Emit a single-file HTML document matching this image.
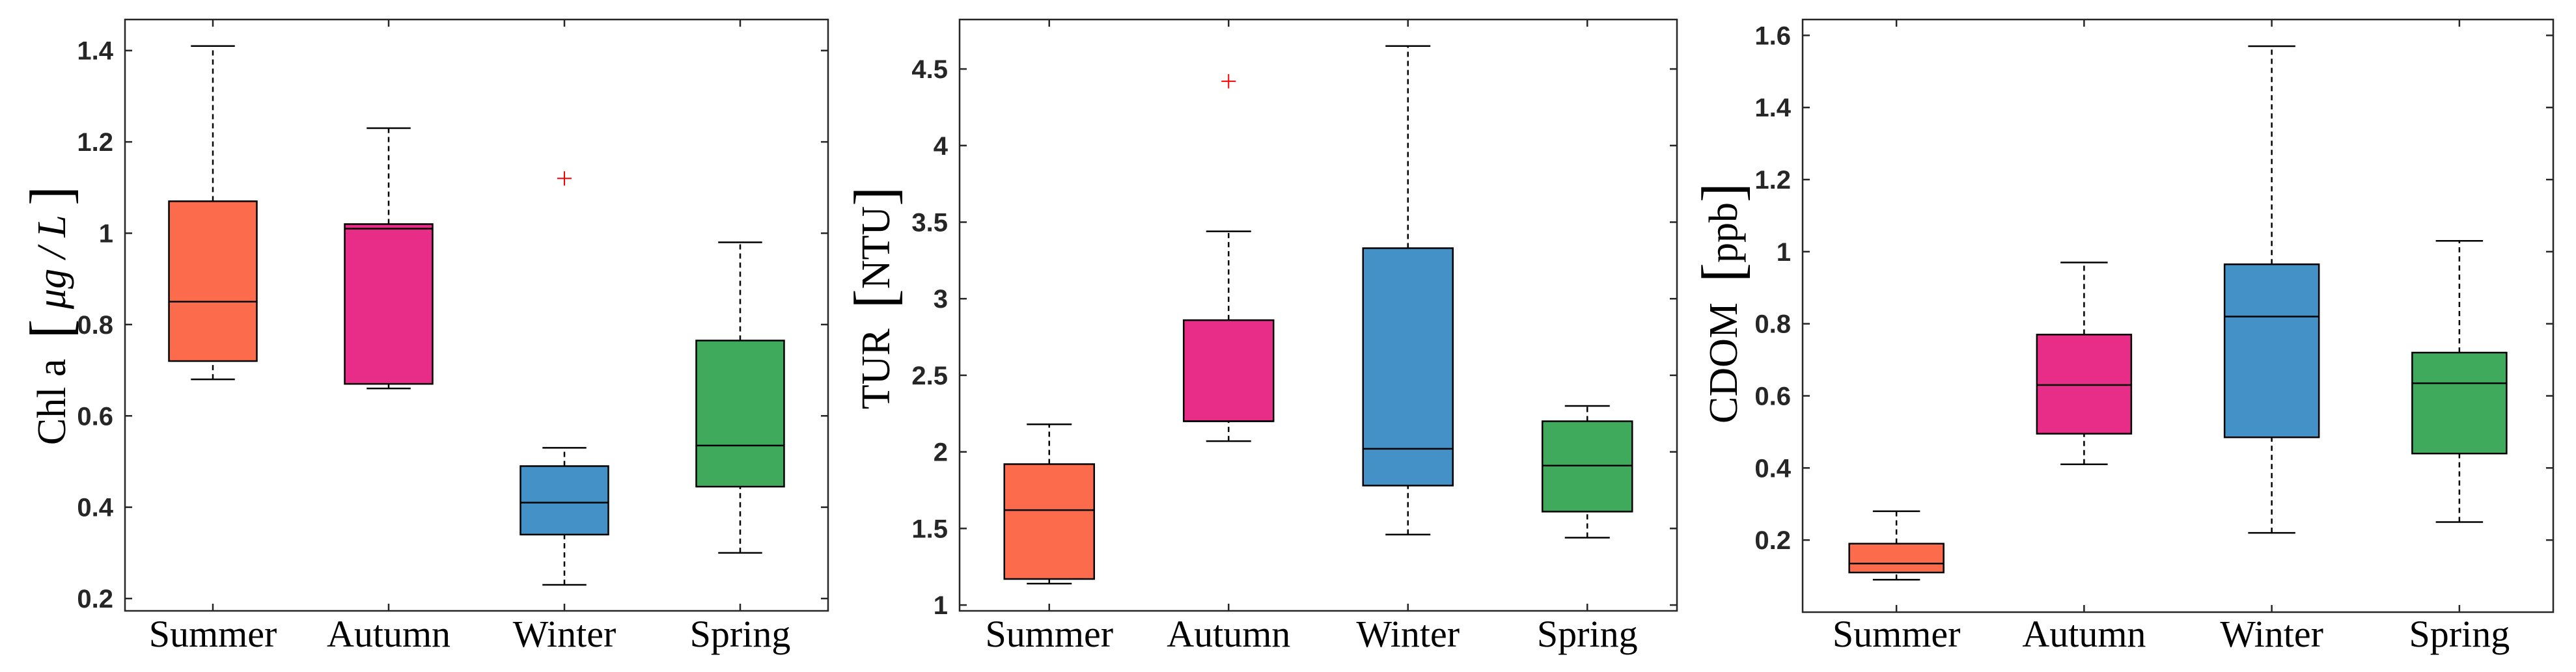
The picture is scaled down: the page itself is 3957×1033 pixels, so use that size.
<!DOCTYPE html>
<html><head><meta charset="utf-8"><style>
html,body{margin:0;padding:0;background:#fff;}
svg{display:block;}
.tick{font-family:"Liberation Sans",sans-serif;font-weight:bold;font-size:40px;fill:#262626;}
.cat{font-family:"Liberation Serif",serif;font-size:58px;fill:#000;}
.ylab{font-family:"Liberation Serif",serif;font-size:62px;fill:#000;}
</style></head><body>
<svg id="chart" width="3957" height="1033" viewBox="0 0 3957 1033" xmlns="http://www.w3.org/2000/svg"></svg>
<script>
const categories = ["Summer","Autumn","Winter","Spring"];
const colors = ["#FC6B4C","#E72D88","#4391C6","#3FAA5B"];
// per panel: [whiskerLow, q1, median, q3, whiskerHigh]
const chlStats = [[0.68,0.72,0.85,1.07,1.41],[0.66,0.67,1.01,1.02,1.23],[0.23,0.34,0.41,0.49,0.53],[0.30,0.445,0.535,0.765,0.98]];
const chlOutliers = [[],[],[1.12],[]];
const chlTicks = [0.2,0.4,0.6,0.8,1,1.2,1.4];
const turStats = [[1.14,1.17,1.62,1.92,2.18],[2.07,2.2,2.2,2.86,3.44],[1.46,1.78,2.02,3.33,4.65],[1.44,1.61,1.91,2.2,2.3]];
const turOutliers = [[],[4.42],[],[]];
const turTicks = [1,1.5,2,2.5,3,3.5,4,4.5];
const cdomStats = [[0.09,0.11,0.135,0.19,0.28],[0.41,0.495,0.63,0.77,0.97],[0.22,0.485,0.82,0.965,1.57],[0.25,0.44,0.635,0.72,1.03]];
const cdomOutliers = [[],[],[],[]];
const cdomTicks = [0.2,0.4,0.6,0.8,1,1.2,1.4,1.6];

const NS="http://www.w3.org/2000/svg";
const svg=document.getElementById('chart');
function mk(tag,attrs,parent){const e=document.createElementNS(NS,tag);for(const k in attrs)e.setAttribute(k,attrs[k]);(parent||svg).appendChild(e);return e;}

const panels=[
 {name:'chl-a',left:192,right:1272,top:30,bottom:939,ymin:0.173,ymax:1.468,stats:chlStats,out:chlOutliers,ticks:chlTicks,fmt:v=>String(v),bw:135,ylx:80,yly:485,lab:'chl'},
 {name:'tur',left:1474,right:2576,top:30,bottom:939,ymin:0.962,ymax:4.823,stats:turStats,out:turOutliers,ticks:turTicks,fmt:v=>String(v),bw:138,ylx:1346,yly:458,lab:'tur'},
 {name:'cdom',left:2769,right:3922,top:30,bottom:941,ymin:0.0,ymax:1.644,stats:cdomStats,out:cdomOutliers,ticks:cdomTicks,fmt:v=>String(v),bw:145,ylx:2648,yly:466,lab:'cdom'}
];

panels.forEach(p=>{
  const g=mk('g',{});
  
  
  const y=v=>p.bottom-(v-p.ymin)/(p.ymax-p.ymin)*(p.bottom-p.top);
  const step=(p.right-p.left)/4;
  const x=i=>p.left+step*(i+0.5);
  p.stats.forEach((s,i)=>{
    const cx=x(i),hw=p.bw/2,cw=hw/2;
    const bg=mk('g',{},g);
    
    
    mk('line',{x1:cx,x2:cx,y1:y(s[0]),y2:y(s[1]),stroke:'#000','stroke-width':2.5,'stroke-dasharray':'8 6'},bg);
    mk('line',{x1:cx,x2:cx,y1:y(s[3]),y2:y(s[4]),stroke:'#000','stroke-width':2.5,'stroke-dasharray':'8 6'},bg);
    mk('line',{x1:cx-cw,x2:cx+cw,y1:y(s[0]),y2:y(s[0]),stroke:'#000','stroke-width':2.5},bg);
    mk('line',{x1:cx-cw,x2:cx+cw,y1:y(s[4]),y2:y(s[4]),stroke:'#000','stroke-width':2.5},bg);
    mk('rect',{x:cx-hw,y:y(s[3]),width:p.bw,height:y(s[1])-y(s[3]),fill:colors[i],stroke:'#000','stroke-width':2.5},bg);
    mk('line',{x1:cx-hw,x2:cx+hw,y1:y(s[2]),y2:y(s[2]),stroke:'#000','stroke-width':2.5},bg);
    p.out[i].forEach(o=>{
      const oy=y(o);
      const og=mk('g',{},bg);
      
      
      mk('line',{x1:cx-11,x2:cx+11,y1:oy,y2:oy,stroke:'#f00','stroke-width':2},og);
      mk('line',{x1:cx,x2:cx,y1:oy-11,y2:oy+11,stroke:'#f00','stroke-width':2},og);
    });
  });
  const fr=mk('rect',{x:p.left,y:p.top,width:p.right-p.left,height:p.bottom-p.top,fill:'none',stroke:'#262626','stroke-width':2.5},g);
  
  
  p.ticks.forEach(t=>{
    const ty=y(t);
    mk('line',{x1:p.left,x2:p.left+11,y1:ty,y2:ty,stroke:'#262626','stroke-width':2.5},g);
    mk('line',{x1:p.right,x2:p.right-11,y1:ty,y2:ty,stroke:'#262626','stroke-width':2.5},g);
    const tl=mk('text',{x:p.left-18,y:ty+14,'text-anchor':'end',class:'tick'},g);
    
    
    tl.textContent=p.fmt(t);
  });
  categories.forEach((c,i)=>{
    const cx=x(i);
    mk('line',{x1:cx,x2:cx,y1:p.bottom,y2:p.bottom-11,stroke:'#262626','stroke-width':2.5},g);
    mk('line',{x1:cx,x2:cx,y1:p.top,y2:p.top+11,stroke:'#262626','stroke-width':2.5},g);
    const cl=mk('text',{x:cx,y:994,'text-anchor':'middle',class:'cat'},g);
    
    
    cl.textContent=c;
  });
  const yl=mk('text',{x:0,y:0,'text-anchor':'middle',class:'ylab',transform:`translate(${p.ylx+20},${p.yly}) rotate(-90)`},g);
  
  
  if(p.lab==='chl'){
    yl.innerHTML='Chl a&#160; <tspan font-size="90" dy="8">[</tspan><tspan dy="-8" font-style="italic"> μg / L </tspan><tspan font-size="90" dy="8">]</tspan>';
  } else if(p.lab==='tur'){
    yl.innerHTML='TUR&#160; <tspan font-size="90" dy="8">[</tspan><tspan dy="-8">NTU</tspan><tspan font-size="90" dy="8">]</tspan>';
  } else {
    yl.innerHTML='CDOM&#160; <tspan font-size="90" dy="8">[</tspan><tspan dy="-8">ppb</tspan><tspan font-size="90" dy="8">]</tspan>';
  }
});
</script>
</body></html>
